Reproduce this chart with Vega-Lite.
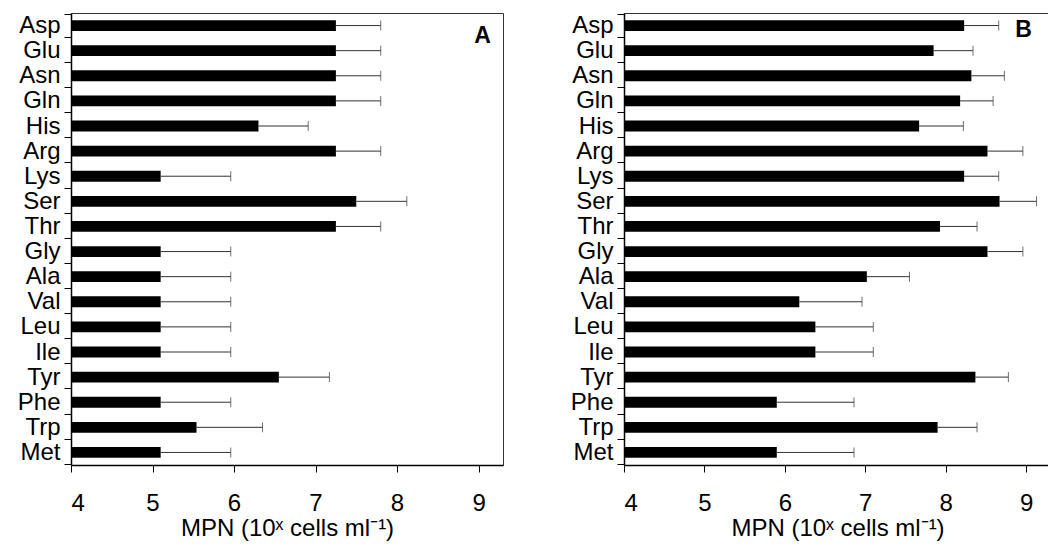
{
  "$schema": "https://vega.github.io/schema/vega-lite/v6.json",
  "padding": {"left": 16, "top": 0, "right": 0, "bottom": 0},
  "background": "white",
  "datasets": {
    "A": [
      {"aa": "Asp", "mpn": 7.25, "upper": 7.80},
      {"aa": "Glu", "mpn": 7.25, "upper": 7.80},
      {"aa": "Asn", "mpn": 7.25, "upper": 7.80},
      {"aa": "Gln", "mpn": 7.25, "upper": 7.80},
      {"aa": "His", "mpn": 6.30, "upper": 6.91},
      {"aa": "Arg", "mpn": 7.25, "upper": 7.80},
      {"aa": "Lys", "mpn": 5.10, "upper": 5.96},
      {"aa": "Ser", "mpn": 7.50, "upper": 8.12},
      {"aa": "Thr", "mpn": 7.25, "upper": 7.80},
      {"aa": "Gly", "mpn": 5.10, "upper": 5.96},
      {"aa": "Ala", "mpn": 5.10, "upper": 5.96},
      {"aa": "Val", "mpn": 5.10, "upper": 5.96},
      {"aa": "Leu", "mpn": 5.10, "upper": 5.96},
      {"aa": "Ile", "mpn": 5.10, "upper": 5.96},
      {"aa": "Tyr", "mpn": 6.55, "upper": 7.17},
      {"aa": "Phe", "mpn": 5.10, "upper": 5.96},
      {"aa": "Trp", "mpn": 5.54, "upper": 6.35},
      {"aa": "Met", "mpn": 5.10, "upper": 5.96}
    ],
    "B": [
      {"aa": "Asp", "mpn": 8.23, "upper": 8.66},
      {"aa": "Glu", "mpn": 7.85, "upper": 8.34},
      {"aa": "Asn", "mpn": 8.32, "upper": 8.73},
      {"aa": "Gln", "mpn": 8.18, "upper": 8.59},
      {"aa": "His", "mpn": 7.67, "upper": 8.22},
      {"aa": "Arg", "mpn": 8.52, "upper": 8.96},
      {"aa": "Lys", "mpn": 8.23, "upper": 8.66},
      {"aa": "Ser", "mpn": 8.67, "upper": 9.13},
      {"aa": "Thr", "mpn": 7.93, "upper": 8.39},
      {"aa": "Gly", "mpn": 8.52, "upper": 8.96},
      {"aa": "Ala", "mpn": 7.02, "upper": 7.55},
      {"aa": "Val", "mpn": 6.18, "upper": 6.96},
      {"aa": "Leu", "mpn": 6.38, "upper": 7.10},
      {"aa": "Ile", "mpn": 6.38, "upper": 7.10},
      {"aa": "Tyr", "mpn": 8.37, "upper": 8.78},
      {"aa": "Phe", "mpn": 5.90, "upper": 6.86},
      {"aa": "Trp", "mpn": 7.90, "upper": 8.39},
      {"aa": "Met", "mpn": 5.90, "upper": 6.86}
    ]
  },
  "spacing": 65,
  "hconcat": [
    {
      "width": 432,
      "height": 452,
      "layer": [
        {
          "data": {"name": "A"},
          "mark": {"type": "bar", "color": "black", "height": {"band": 0.48}},
          "encoding": {
            "y": {"field": "aa", "type": "nominal", "sort": null,
                  "axis": {"title": null, "tickBand": "extent", "labelFontSize": 24, "labelPadding": 4}},
            "x": {"field": "mpn", "type": "quantitative",
                  "scale": {"domain": [4, 9.3], "nice": false, "zero": false},
                  "axis": {"title": "MPN (10ˣ cells ml⁻¹)", "values": [4, 5, 6, 7, 8, 9], "format": "d", "labelFontSize": 24, "titleFontSize": 24, "titleFontWeight": "normal", "labelPadding": 19, "titlePadding": 1}},
            "x2": {"datum": 4}
          }
        },
        {
          "data": {"name": "A"},
          "mark": {"type": "rule", "color": "#333", "strokeWidth": 1},
          "encoding": {
            "y": {"field": "aa", "type": "nominal", "sort": null},
            "x": {"field": "mpn", "type": "quantitative"},
            "x2": {"field": "upper"}
          }
        },
        {
          "data": {"name": "A"},
          "mark": {"type": "tick", "color": "#333", "thickness": 1, "size": 10, "orient": "vertical"},
          "encoding": {
            "y": {"field": "aa", "type": "nominal", "sort": null},
            "x": {"field": "upper", "type": "quantitative"}
          }
        },
        {
          "data": {"values": [{"panel": "A"}]},
          "mark": {"type": "text", "fontSize": 23, "fontWeight": "bold", "baseline": "top", "align": "center", "color": "black", "dy": -1},
          "encoding": {
            "text": {"field": "panel"},
            "x": {"datum": 9.05, "type": "quantitative"},
            "y": {"datum": "Asp", "type": "nominal"}
          }
        }
      ]
    },
    {
      "width": 427,
      "height": 452,
      "layer": [
        {
          "data": {"name": "B"},
          "mark": {"type": "bar", "color": "black", "height": {"band": 0.48}},
          "encoding": {
            "y": {"field": "aa", "type": "nominal", "sort": null,
                  "axis": {"title": null, "tickBand": "extent", "labelFontSize": 24, "labelPadding": 4}},
            "x": {"field": "mpn", "type": "quantitative",
                  "scale": {"domain": [4, 9.31], "nice": false, "zero": false},
                  "axis": {"title": "MPN (10ˣ cells ml⁻¹)", "values": [4, 5, 6, 7, 8, 9], "format": "d", "labelFontSize": 24, "titleFontSize": 24, "titleFontWeight": "normal", "labelPadding": 19, "titlePadding": 1}},
            "x2": {"datum": 4}
          }
        },
        {
          "data": {"name": "B"},
          "mark": {"type": "rule", "color": "#333", "strokeWidth": 1},
          "encoding": {
            "y": {"field": "aa", "type": "nominal", "sort": null},
            "x": {"field": "mpn", "type": "quantitative"},
            "x2": {"field": "upper"}
          }
        },
        {
          "data": {"name": "B"},
          "mark": {"type": "tick", "color": "#333", "thickness": 1, "size": 10, "orient": "vertical"},
          "encoding": {
            "y": {"field": "aa", "type": "nominal", "sort": null},
            "x": {"field": "upper", "type": "quantitative"}
          }
        },
        {
          "data": {"values": [{"panel": "B"}]},
          "mark": {"type": "text", "fontSize": 23, "fontWeight": "bold", "baseline": "top", "align": "center", "color": "black", "dy": -7},
          "encoding": {
            "text": {"field": "panel"},
            "x": {"datum": 8.97, "type": "quantitative"},
            "y": {"datum": "Asp", "type": "nominal"}
          }
        }
      ]
    }
  ],
  "config": {
    "font": "Liberation Sans",
    "view": {"stroke": "#333", "strokeWidth": 1},
    "axis": {
      "domainColor": "black", "tickColor": "black", "labelColor": "black", "titleColor": "black",
      "labelFont": "Liberation Sans", "titleFont": "Liberation Sans",
      "grid": false, "tickSize": 7, "domainWidth": 1.5, "tickWidth": 1
    }
  }
}
